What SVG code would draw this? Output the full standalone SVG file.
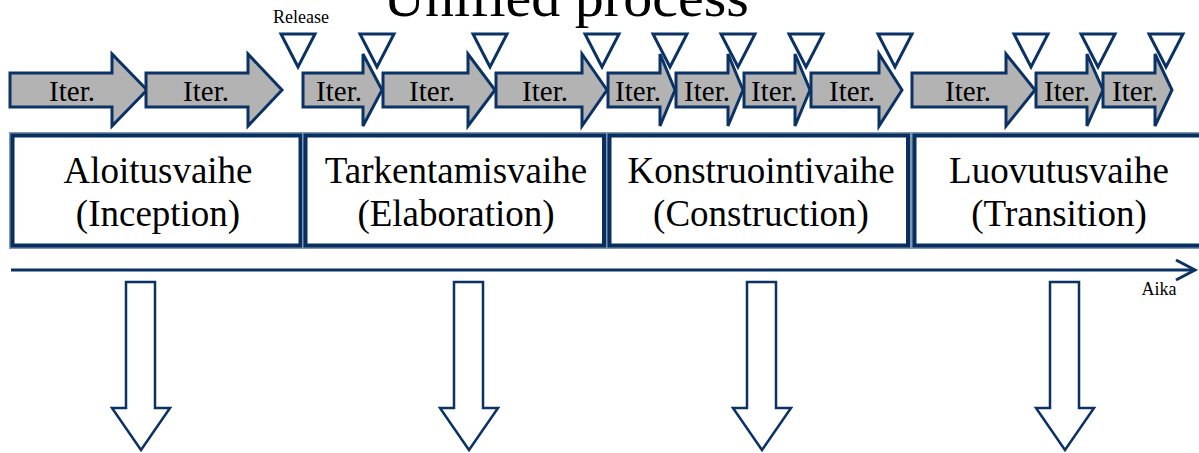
<svg xmlns="http://www.w3.org/2000/svg" width="1199" height="453" viewBox="0 0 1199 453">
  <defs>
    <style>
      text { font-family: "Liberation Serif", "Times New Roman", serif; fill: #000; }
      .title { font-size: 58px; text-anchor: middle; }
      .small { font-size: 18px; text-anchor: middle; }
      .iter-label { font-size: 29px; text-anchor: middle; }
      .phase-label { font-size: 37px; text-anchor: middle; }
      .iter { fill: #b3b3b3; stroke: #0b3264; stroke-width: 3; stroke-linejoin: miter; }
      .release { fill: #ffffff; stroke: #0b3264; stroke-width: 3; stroke-linejoin: miter; }
      .phase-rim { fill: none; stroke: #7f97b6; stroke-width: 7; }
      .phase-box { fill: #ffffff; stroke: #082f5e; stroke-width: 4; }
      .timeline { fill: none; stroke: #0b3264; stroke-width: 3; }
      .down { fill: #ffffff; stroke: #0b3264; stroke-width: 2.5; stroke-linejoin: miter; }
    </style>
  </defs>

  <rect width="1199" height="453" fill="#ffffff"/>

  <text class="title" x="566" y="16">Unified process</text>

  <!-- iteration arrows: body y 73..107, head y 54..126, tip y 90 -->
  <g id="iterations">
    <g id="iter1"><path class="iter" d="M10,73 H112 V54 L147,90 L112,126 V107 H10 Z"/><text class="iter-label" x="72" y="101">Iter.</text></g>
    <g id="iter2"><path class="iter" d="M146,73 H248 V54 L282,90 L248,126 V107 H146 Z"/><text class="iter-label" x="206" y="101">Iter.</text></g>
    <g id="iter3"><path class="iter" d="M303,73 H363 V54 L382,90 L363,126 V107 H303 Z"/><text class="iter-label" x="339" y="101">Iter.</text></g>
    <g id="iter4"><path class="iter" d="M383,73 H468 V54 L495,90 L468,126 V107 H383 Z"/><text class="iter-label" x="432" y="101">Iter.</text></g>
    <g id="iter5"><path class="iter" d="M496,73 H582 V54 L607,90 L582,126 V107 H496 Z"/><text class="iter-label" x="545" y="101">Iter.</text></g>
    <g id="iter6"><path class="iter" d="M608,73 H660 V54 L675,90 L660,126 V107 H608 Z"/><text class="iter-label" x="638" y="101">Iter.</text></g>
    <g id="iter7"><path class="iter" d="M676,73 H728 V54 L743,90 L728,126 V107 H676 Z"/><text class="iter-label" x="707" y="101">Iter.</text></g>
    <g id="iter8"><path class="iter" d="M744,73 H795 V54 L810,90 L795,126 V107 H744 Z"/><text class="iter-label" x="774" y="101">Iter.</text></g>
    <g id="iter9"><path class="iter" d="M811,73 H879 V54 L902,90 L879,126 V107 H811 Z"/><text class="iter-label" x="852" y="101">Iter.</text></g>
    <g id="iter10"><path class="iter" d="M912,73 H1006 V54 L1035,90 L1006,126 V107 H912 Z"/><text class="iter-label" x="968" y="101">Iter.</text></g>
    <g id="iter11"><path class="iter" d="M1036,73 H1087 V54 L1103,90 L1087,126 V107 H1036 Z"/><text class="iter-label" x="1067" y="101">Iter.</text></g>
    <g id="iter12"><path class="iter" d="M1103,73 H1155 V54 L1172,90 L1155,126 V107 H1103 Z"/><text class="iter-label" x="1135" y="101">Iter.</text></g>
  </g>

  <!-- release milestones -->
  <g id="releases">
    <text class="small" x="301" y="23">Release</text>
    <path class="release" d="M281,34 H315 L298,67 Z"/>
    <path class="release" d="M360,34 H394 L377,67 Z"/>
    <path class="release" d="M473,34 H507 L490,67 Z"/>
    <path class="release" d="M585,34 H619 L602,67 Z"/>
    <path class="release" d="M653,34 H687 L670,67 Z"/>
    <path class="release" d="M721,34 H755 L738,67 Z"/>
    <path class="release" d="M789,34 H823 L806,67 Z"/>
    <path class="release" d="M878,34 H912 L895,67 Z"/>
    <path class="release" d="M1014,34 H1048 L1031,67 Z"/>
    <path class="release" d="M1081,34 H1115 L1098,67 Z"/>
    <path class="release" d="M1149,34 H1183 L1166,67 Z"/>
  </g>

  <!-- phases -->
  <g id="phase-inception">
    <rect class="phase-rim" x="12.5" y="135.5" width="288" height="110"/>
    <rect class="phase-box" x="12.5" y="135.5" width="288" height="110"/>
    <text class="phase-label" x="158" y="183">Aloitusvaihe</text>
    <text class="phase-label" x="158" y="226">(Inception)</text>
  </g>
  <g id="phase-elaboration">
    <rect class="phase-rim" x="305.5" y="135.5" width="298.5" height="110"/>
    <rect class="phase-box" x="305.5" y="135.5" width="298.5" height="110"/>
    <text class="phase-label" x="456" y="183">Tarkentamisvaihe</text>
    <text class="phase-label" x="456" y="226">(Elaboration)</text>
  </g>
  <g id="phase-construction">
    <rect class="phase-rim" x="609.5" y="135.5" width="298.5" height="110"/>
    <rect class="phase-box" x="609.5" y="135.5" width="298.5" height="110"/>
    <text class="phase-label" x="761" y="183">Konstruointivaihe</text>
    <text class="phase-label" x="761" y="226">(Construction)</text>
  </g>
  <g id="phase-transition">
    <rect class="phase-rim" x="914.5" y="135.5" width="300" height="110"/>
    <rect class="phase-box" x="914.5" y="135.5" width="300" height="110"/>
    <text class="phase-label" x="1059" y="183">Luovutusvaihe</text>
    <text class="phase-label" x="1059" y="226">(Transition)</text>
  </g>

  <!-- time axis -->
  <g id="time-axis">
    <path class="timeline" d="M11,270 H1194"/>
    <path class="timeline" d="M1176,260 L1195,270 L1176,280"/>
    <text class="small" x="1159" y="295">Aika</text>
  </g>

  <!-- outcome arrows below each phase -->
  <g id="connectors">
    <path class="down" d="M126,282 H155 V408 H170 L141,450 L112,408 H126 Z"/>
    <path class="down" d="M454,282 H483 V408 H498 L469,450 L440,408 H454 Z"/>
    <path class="down" d="M747,282 H776 V408 H791 L762,450 L733,408 H747 Z"/>
    <path class="down" d="M1050,282 H1079 V408 H1094 L1065,450 L1036,408 H1050 Z"/>
  </g>
</svg>
